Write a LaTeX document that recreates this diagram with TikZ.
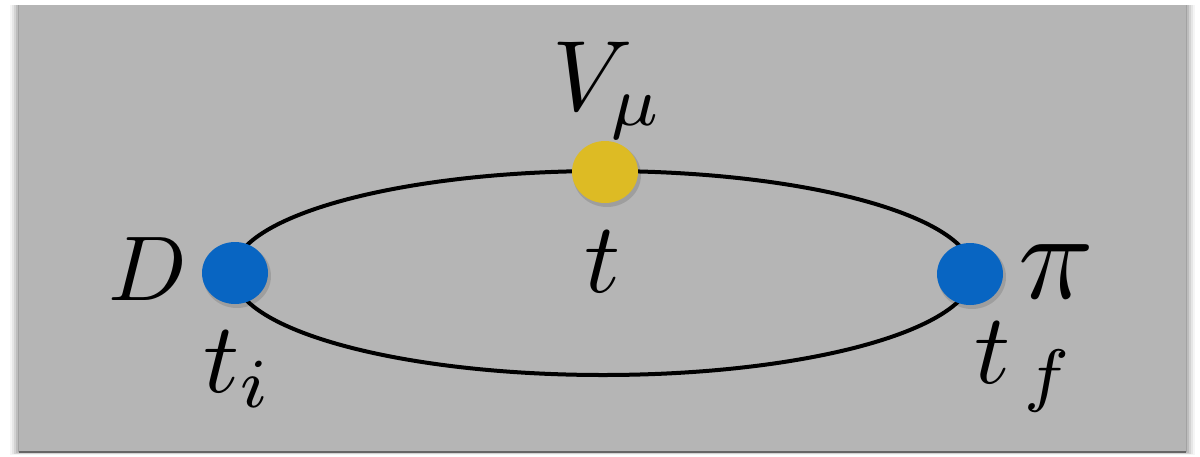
\documentclass[tikz,border=0pt]{standalone}
\usepackage{graphicx}
\usetikzlibrary{shapes.geometric}
\definecolor{panelgray}{RGB}{181,181,181}
\definecolor{dotblue}{RGB}{8,101,194}
\definecolor{dotyellow}{RGB}{221,187,36}
\newcommand{\mylbl}[2][10]{\scalebox{#1}{$#2$}}
\tikzset{
  dot/.style={ellipse, minimum width=66pt, minimum height=62pt, inner sep=0pt},
  bluedot/.style={dot, fill=dotblue},
  yellowdot/.style={dot, fill=dotyellow},
  lbl/.style={inner sep=0pt},
  curve/.style={line width=4pt, black},
}
\begin{document}
\begin{tikzpicture}[x=1pt,y=-1pt]
\useasboundingbox (0,0) rectangle (1200,456);
\fill[white] (0,0) rectangle (1200,456);
% soft shadow of the panel
\foreach \d/\o in {9/0.04,7/0.06,5/0.08,3/0.10,1/0.14}{
  \fill[black,opacity=\o] (19-\d,5) rectangle (1186+\d,452+\d*0.3);
}
\fill[panelgray] (19,5) rectangle (1186,452);
\draw[black!60,line width=1.5pt] (19,452) -- (1186,452);
% loop
\coordinate (c) at (603,273);
\draw[curve] (c) ellipse [x radius=370, y radius=102];
% dots
\foreach \x/\y in {235/273,605/172,970/274}{
  \fill[black,opacity=0.12] (\x+2,\y+3) ellipse [x radius=34, y radius=32];
}
\node[bluedot] (D) at (235,273) {};
\node[yellowdot] (V) at (605,172) {};
\node[bluedot] (P) at (970,274) {};
% labels
\node[lbl, anchor=base east] (lD) at (187,300) {\mylbl[9.2]{D}};
\node[lbl, anchor=base west] (lV) at (552,110) {\mylbl{V_\mu}};
\node[lbl, anchor=base west] (lt) at (584,292) {\mylbl{t}};
\node[lbl, anchor=base west] (lti) at (203,392) {\mylbl{t_i}};
\node[lbl, anchor=base west] (lP) at (1018,298) {\mylbl[12.5]{\pi}};
\node[lbl, anchor=base west] (ltf) at (974,383) {\mylbl{t_{\,f}}};
\end{tikzpicture}
\end{document}
